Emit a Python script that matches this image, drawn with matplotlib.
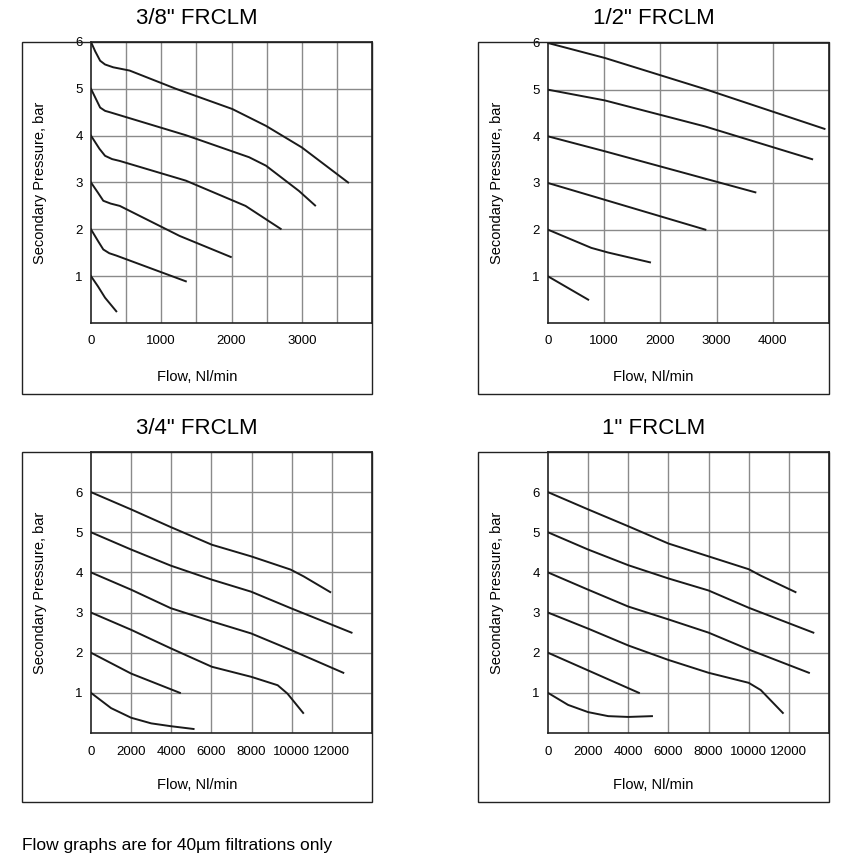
import matplotlib.pyplot as plt
from matplotlib.patches import Rectangle

# ---- data (flow Nl/min, pressure bar) ----
titles = ['3/8" FRCLM', '1/2" FRCLM', '3/4" FRCLM', '1" FRCLM']

# 3/8"
s38_x = [
    [0, 60, 130, 200, 316, 550, 1210, 2010, 2490, 3000, 3660],
    [0, 130, 200, 270, 1350, 2250, 2490, 2960, 3190],
    [0, 120, 200, 300, 410, 1350, 2200, 2700],
    [0, 100, 175, 280, 410, 1260, 1990],
    [0, 100, 175, 260, 360, 1350],
    [0, 100, 200, 360],
]
s38_y = [
    [6.0, 5.8, 5.6, 5.52, 5.46, 5.39, 5.0, 4.57, 4.21, 3.75, 3.0],
    [5.0, 4.6, 4.53, 4.5, 4.01, 3.54, 3.36, 2.82, 2.51],
    [4.0, 3.72, 3.57, 3.5, 3.46, 3.04, 2.5, 2.01],
    [3.0, 2.78, 2.61, 2.55, 2.5, 1.86, 1.41],
    [2.0, 1.75, 1.57, 1.49, 1.44, 0.89],
    [1.0, 0.78, 0.54, 0.25],
]

# 1/2"
s12_x = [
    [0, 1010, 2800, 4920],
    [0, 1010, 2800, 4700],
    [0, 1010, 3690],
    [0, 1010, 2800],
    [0, 770, 1070, 1815],
    [0, 715],
]
s12_y = [
    [6.0, 5.68, 5.01, 4.16],
    [5.0, 4.77, 4.21, 3.51],
    [4.0, 3.68, 2.8],
    [3.0, 2.64, 2.0],
    [2.0, 1.61, 1.51, 1.3],
    [1.0, 0.5],
]

# 3/4"
s34_x = [
    [0, 2000, 3970, 6020, 7980, 9950, 10600, 11920],
    [0, 2000, 3970, 6020, 7980, 9950, 12980],
    [0, 2000, 3970, 6020, 7980, 9950, 12570],
    [0, 2000, 3970, 6020, 7980, 9300, 9790, 10570],
    [0, 2000, 4430],
    [0, 1000, 2000, 3000, 3970, 5110],
]
s34_y = [
    [6.0, 5.57, 5.13, 4.69, 4.4, 4.07, 3.9, 3.51],
    [5.0, 4.57, 4.17, 3.82, 3.52, 3.11, 2.5],
    [4.0, 3.57, 3.11, 2.78, 2.48, 2.07, 1.5],
    [3.0, 2.57, 2.11, 1.65, 1.4, 1.19, 0.98, 0.5],
    [2.0, 1.48, 1.0],
    [1.0, 0.62, 0.38, 0.24, 0.17, 0.1],
]

# 1"
s1_x = [
    [0, 2000, 4000, 6000, 8000, 10000, 10600, 12330],
    [0, 2000, 4000, 6000, 8000, 10000, 13220],
    [0, 2000, 4000, 6000, 8000, 10000, 13000],
    [0, 2000, 4000, 6000, 8000, 10000, 10600, 11700],
    [0, 4530],
    [0, 1000, 2000, 3000, 4000, 5180],
]
s1_y = [
    [6.0, 5.57, 5.15, 4.72, 4.4, 4.08, 3.92, 3.51],
    [5.0, 4.57, 4.18, 3.85, 3.55, 3.12, 2.5],
    [4.0, 3.57, 3.15, 2.83, 2.5, 2.08, 1.5],
    [3.0, 2.6, 2.18, 1.82, 1.5, 1.25, 1.07, 0.5],
    [2.0, 1.0],
    [1.0, 0.7, 0.52, 0.42, 0.4, 0.42],
]

W, H = 850, 863
fig = plt.figure(figsize=(8.5, 8.63), dpi=100)


def fx(p):
    return p / W


def fy(p):
    return 1 - p / H


panels = [
    # frame (l, t, r, b) px, axes (l, t, r, b) px, xlim, x grid step, x ticks, ylim
    ((22, 42, 372, 394), (91, 42, 372, 323), 4000, 500, [0, 1000, 2000, 3000], 6, s38_x, s38_y),
    ((478, 42, 829, 394), (548, 43, 829, 323), 5000, 1000, [0, 1000, 2000, 3000, 4000], 6, s12_x, s12_y),
    ((22, 452, 372, 802), (91, 452, 372, 733), 14000, 2000, list(range(0, 12001, 2000)), 7, s34_x, s34_y),
    ((478, 452, 829, 802), (548, 452, 829, 733), 14000, 2000, list(range(0, 12001, 2000)), 7, s1_x, s1_y),
]

for title, (fr, ax_px, xmax, xstep, xticks, ymax, xs, ys) in zip(titles, panels):
    l, t, r, b = fr
    fig.patches.append(Rectangle((fx(l), fy(b)), fx(r - l), (b - t) / H,
                                 transform=fig.transFigure, fill=False,
                                 edgecolor='#222222', lw=1.0))
    fig.text(fx((l + r) / 2), fy(t - 24), title, ha='center', va='center',
             fontsize=16, family='Liberation Sans')
    fig.text(fx((l + r) / 2), fy(b - 17), 'Flow, Nl/min', ha='center',
             va='center', fontsize=10.5, family='Liberation Sans')

    al, at, ar, ab = ax_px
    ax = fig.add_axes([fx(al), fy(ab), fx(ar - al), (ab - at) / H])
    ax.set_xlim(0, xmax)
    ax.set_ylim(0, ymax)
    for g in range(xstep, xmax, xstep):
        ax.axvline(g, color='#8a8a8a', lw=1.0, zorder=1)
    for g in range(1, ymax):
        ax.axhline(g, color='#8a8a8a', lw=1.0, zorder=1)
    for x, y in zip(xs, ys):
        ax.plot(x, y, color='#1a1a1a', lw=1.4, zorder=3)
    ax.set_xticks(xticks)
    ax.set_yticks(range(1, 7))
    ax.tick_params(length=0, labelsize=9.5, pad=9)
    ax.tick_params(axis='y', pad=6)
    for lab in ax.get_xticklabels() + ax.get_yticklabels():
        lab.set_family('Liberation Sans')
    for s in ax.spines.values():
        s.set_color('#222222')
        s.set_linewidth(1.2)
    ax.set_ylabel('Secondary Pressure, bar', fontsize=10.5,
                  family='Liberation Sans', labelpad=20)

fig.text(fx(22), fy(845), 'Flow graphs are for 40\u00b5m filtrations only',
         ha='left', va='center', fontsize=12.5, family='Liberation Sans')

fig.savefig('out.png', dpi=100)
